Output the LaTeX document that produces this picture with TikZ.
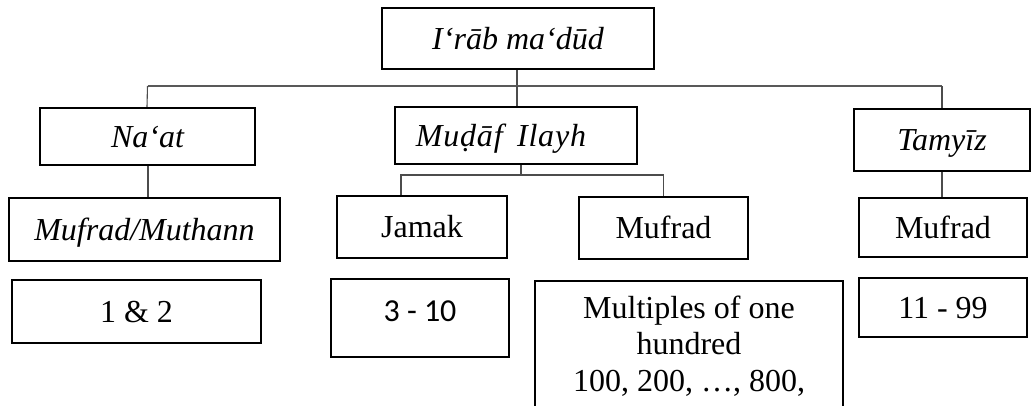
\documentclass[tikz,border=0pt]{standalone}
\usepackage{fontspec}
\setmainfont{Liberation Serif}
\newfontfamily\calibrifont{Carlito}
\begin{document}
\begin{tikzpicture}[x=1pt,y=1pt,
  frame/.style={draw=black,line width=2.2pt,inner sep=0pt,align=center,
    font=\fontsize{32}{36.5}\selectfont},
  box/.style={frame,text height=25pt,text depth=4pt},
  link/.style={draw=black!70,line width=1.1pt},
  bus/.style={draw=black!65,line width=1.8pt}]
\useasboundingbox (0,0) rectangle (1032,-405);

% first level
\node[box,minimum width=272,minimum height=61] (root) at (518,-38.5) {\itshape I‘rāb ma‘dūd};
\node[box,minimum width=215,minimum height=57] (naat) at (147.5,-136.5) {\itshape Na‘at};
\node[box,minimum width=242,minimum height=57] (mudaf) at (516,-135.5)
  {\itshape\addfontfeature{LetterSpace=2.5}Muḍāf\hspace{0.45em}Ilayh\hspace{30pt}};
\node[box,minimum width=176,minimum height=62] (tamyiz) at (942,-140) {\itshape Tamyīz};

% second level
\node[box,minimum width=271,minimum height=63] (mm) at (144.5,-229.5) {\itshape Mufrad/Muthann};
\node[box,minimum width=170,minimum height=62] (jamak) at (422,-227) {Jamak};
\node[box,minimum width=169,minimum height=62] (mufradB) at (663.5,-228) {Mufrad};
\node[box,minimum width=168,minimum height=59] (mufradC) at (943,-227.5) {Mufrad};

% number ranges
\node[box,minimum width=249,minimum height=63] (one) at (136.5,-311.5) {1 \& 2};
\node[frame,minimum width=178,anchor=north] (three) at (420,-278)
  {\calibrifont\rule[-36pt]{0pt}{78pt}3 - 10};
\node[frame,minimum width=308,anchor=north] (mult) at (689,-280)
  {\rule{0pt}{37pt}Multiples of one\\hundred\\100, 200, …, 800,\rule[-40pt]{0pt}{40pt}};
\node[box,minimum width=168,minimum height=59] (eleven) at (943,-307.5) {11 - 99};

% connectors
\coordinate (top) at (517,-86);
\draw[link] (root.south -| top) -- (top);
\draw[bus] (naat.north |- top) -- (tamyiz.north |- top);
\draw[link] (naat.north |- top) -- (naat.north -| 147,0);
\draw[link] (top) -- (mudaf.north -| top);
\draw[link] (tamyiz.north |- top) -- (tamyiz.north);
\draw[link] (naat.south -| 148,0) -- (mm.north -| 148,0);
\draw[link] (tamyiz.south) -- (tamyiz.south |- mufradC.north);

\coordinate (mid) at (521,-175);
\coordinate (left) at (401,-175);
\draw[link] (mudaf.south -| mid) -- (mid);
\draw[link] (left |- jamak.north) -- (left) -- (left -| mufradB.north) -- (mufradB.north);
\end{tikzpicture}
\end{document}
